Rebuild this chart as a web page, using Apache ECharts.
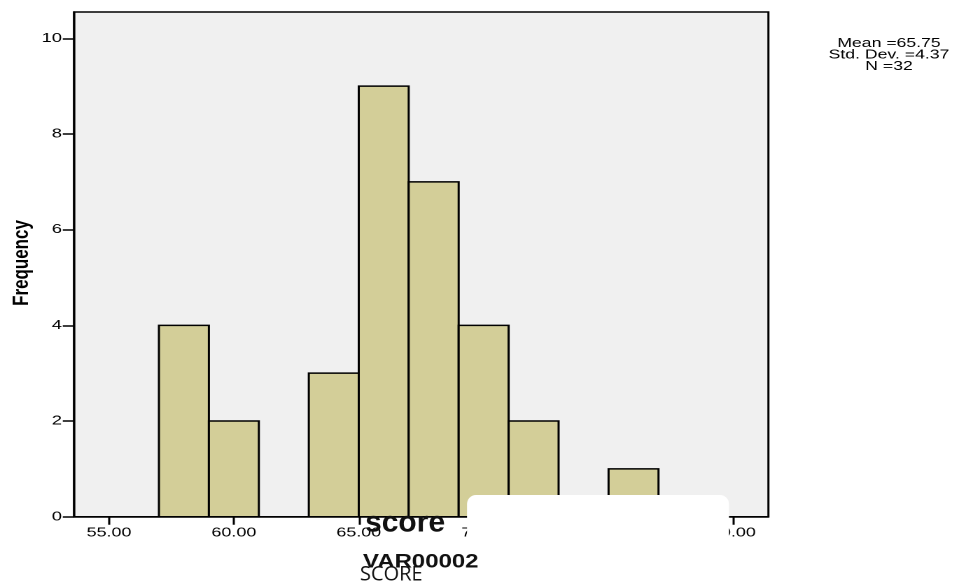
<!DOCTYPE html>
<html>
<head>
<meta charset="utf-8">
<title>VAR00002 histogram</title>
<script src="https://cdn.jsdelivr.net/npm/echarts@6/dist/echarts.min.js"></script>
<style>
  html, body { margin: 0; padding: 0; background: #ffffff; overflow: hidden; }
  /* the chart is laid out narrow and widened horizontally, like the exported graphic */
  #chart { width: 686.43px; height: 587px; transform: scaleX(1.4); transform-origin: 0 0; }
</style>
</head>
<body>
<div id="chart"></div>
<script>
// histogram bins (lower edge, width 2) and frequencies
const binStarts = [57, 59, 61, 63, 65, 67, 69, 71, 73, 75];
const binWidth = 2;
const counts = [4, 2, 0, 3, 9, 7, 4, 2, 0, 1];

// axis ticks
const xTicks = [55, 60, 65, 70, 75, 80];
const yTicks = [0, 2, 4, 6, 8, 10];

// summary statistics box
const statLines = ['Mean =65.75', 'Std. Dev. =4.37', 'N =32'];

const S = 1.4; // horizontal widening applied to the container
const font = '"Liberation Sans", Arial, sans-serif';

const bins = binStarts.map((b, i) => [b, b + binWidth, counts[i]]).filter(d => d[2] > 0);

const chart = echarts.init(document.getElementById('chart'), null, { renderer: 'canvas', devicePixelRatio: 2 });

const option = {
  animation: false,
  backgroundColor: '#ffffff',
  grid: {
    left: 74 / S, right: (961 - 769) / S, top: 12, bottom: 70.3,
    show: true, backgroundColor: '#f0f0f0', borderColor: '#000000', borderWidth: 1.5
  },
  xAxis: {
    type: 'value', min: 53.6, max: 81.4,
    axisLine: { show: true, lineStyle: { color: '#000', width: 1.5 } },
    axisTick: { show: true, customValues: xTicks, length: 8, lineStyle: { color: '#000', width: 1.5 } },
    axisLabel: { customValues: xTicks, margin: 10, color: '#000', fontFamily: font, fontSize: 12.8,
      formatter: v => v.toFixed(2) },
    splitLine: { show: false }
  },
  yAxis: {
    type: 'value', min: 0, max: 10.55,
    axisLine: { show: true, lineStyle: { color: '#000', width: 1.5 } },
    axisTick: { show: true, customValues: yTicks, length: 8, lineStyle: { color: '#000', width: 1.5 } },
    axisLabel: { customValues: yTicks, margin: 8.6, color: '#000', fontFamily: font, fontSize: 13 },
    splitLine: { show: false }
  },
  series: [{
    type: 'custom',
    data: bins,
    encode: { x: [0, 1], y: 2 },
    renderItem: function (params, api) {
      const top = api.coord([api.value(0), api.value(2)]);
      const base = api.coord([api.value(1), 0]);
      return {
        type: 'rect',
        shape: { x: top[0], y: top[1], width: base[0] - top[0], height: base[1] - top[1] },
        style: { fill: '#d3ce98', stroke: '#000000', lineWidth: 1.5 }
      };
    }
  }],
  graphic: [
    // y-axis title
    {
      type: 'text', x: 22 / S, y: 263, rotation: Math.PI / 2, scaleX: 1.06, z: 10,
      style: { text: 'Frequency', font: 'bold 16px ' + font, fill: '#000', align: 'center', verticalAlign: 'middle' }
    },
    // statistics
    ...statLines.map((t, i) => ({
      type: 'text', x: 889 / S, y: 43.5 + i * 11.5, z: 10,
      style: { text: t, font: '12.6px ' + font, fill: '#000', align: 'center', verticalAlign: 'middle' }
    })),
    // label layer drawn at natural width
    {
      type: 'group', x: 0, y: 0, scaleX: 1 / S, z: 20,
      children: [
        {
          type: 'rect', z: 20,
          shape: { x: 467, y: 495, width: 262, height: 130, r: 9 },
          style: { fill: '#ffffff' }
        },
        {
          type: 'text', x: 365, y: 523, z: 21,
          style: { text: 'score', font: 'bold 30px ' + font, fill: '#111', align: 'left', verticalAlign: 'middle' }
        },
        {
          type: 'text', x: 363, y: 562, scaleX: 1.23, z: 21,
          style: { text: 'VAR00002', font: 'bold 19.5px ' + font, fill: '#111', align: 'left', verticalAlign: 'middle' }
        },
        {
          type: 'text', x: 360, y: 575, z: 22,
          style: { text: 'SCORE', font: '20px "Open Sans", sans-serif', fill: '#111', align: 'left', verticalAlign: 'middle' }
        }
      ]
    }
  ]
};

chart.setOption(option);
</script>
</body>
</html>
